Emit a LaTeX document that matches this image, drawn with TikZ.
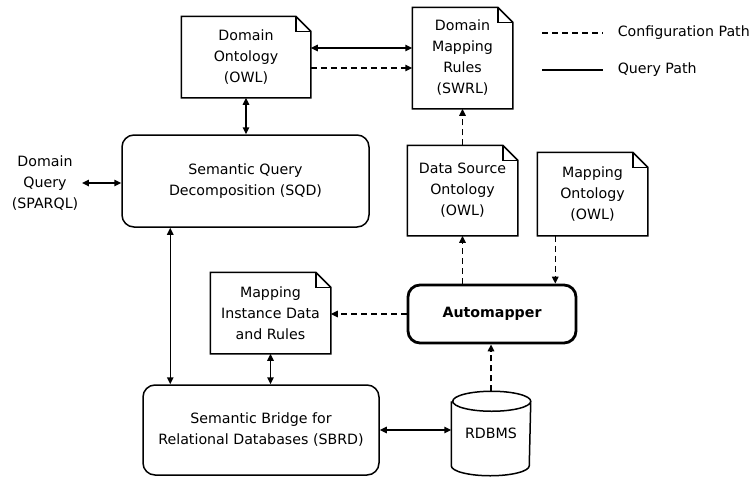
\documentclass[tikz,border=0pt]{standalone}
\usepackage{fontspec}
\setmainfont{DejaVu Sans}
\usetikzlibrary{arrows.meta}
\tikzset{
  base/.style={font=\fontsize{14.2}{21}\selectfont, align=center, inner sep=0pt, line width=1.5pt},
  rbox/.style={base, draw, rounded corners=12pt},
  cfg/.style={line width=1.5pt, dash pattern=on 6pt off 4pt},
  qry/.style={line width=1.5pt},
  tip/.style={-{Triangle[length=7pt,width=6.5pt]}},
  tips/.style={{Triangle[length=7pt,width=6.5pt]}-{Triangle[length=7pt,width=6.5pt]}},
}
\begin{document}
\begin{tikzpicture}[x=1pt,y=-1pt]
\useasboundingbox (0,0) rectangle (752,477);
% documents
\node[base, minimum width=128pt, minimum height=80pt] (do) at (246,57) {Domain\\Ontology\\(OWL)};
\node[base, minimum width=99pt, minimum height=100pt] (dmr) at (462.5,58) {Domain\\Mapping\\Rules\\(SWRL)};
\node[base, minimum width=109pt, minimum height=89pt] (dso) at (462.5,190.5) {Data Source\\Ontology\\(OWL)};
\node[base, minimum width=109pt, minimum height=82pt] (mo) at (592.5,194) {Mapping\\Ontology\\(OWL)};
\node[base, minimum width=119pt, minimum height=80pt] (mi) at (270.5,313) {Mapping\\Instance Data\\and Rules};
\foreach \n in {do,dmr,dso,mo,mi}{
  \draw[line width=1.5pt, line join=miter]
    (\n.south west) -- (\n.north west) -- ([xshift=-15pt]\n.north east)
    -- ([yshift=-15pt]\n.north east) -- (\n.south east) -- cycle;
  \draw[line width=1.5pt, line join=miter]
    ([xshift=-15pt]\n.north east) -- ([xshift=-15pt,yshift=-15pt]\n.north east)
    -- ([yshift=-15pt]\n.north east);
}
% process boxes
\node[rbox, minimum width=247pt, minimum height=92pt] (sqd) at (245.5,181) {Semantic Query\\Decomposition (SQD)};
\node[rbox, minimum width=236pt, minimum height=90pt] (sbrd) at (261,430) {Semantic Bridge for\\Relational Databases (SBRD)};
\node[rbox, line width=2.8pt, minimum width=168pt, minimum height=58pt, font=\fontsize{14.2}{21}\selectfont\bfseries] (auto) at (492,314) {Automapper};
\node[base] (dq) at (45,183) {Domain\\Query\\(SPARQL)};
% cylinder
\node[base, minimum width=78pt, minimum height=83pt] (rdb) at (491,433.5) {\raisebox{-6pt}{RDBMS}};
\draw[line width=1.5pt]
  ([yshift=-10pt]rdb.north west) -- ([yshift=10pt]rdb.south west)
  arc[start angle=180,end angle=360,x radius=39pt,y radius=10pt]
  -- ([yshift=-10pt]rdb.north east)
  arc[start angle=0,end angle=360,x radius=39pt,y radius=10pt];
% connectors
\draw[qry,tips] ([yshift=9pt]do.east) -- ([yshift=9pt]do.east -| dmr.west);
\draw[cfg,tip] ([yshift=-11pt]do.east) -- ([yshift=-11pt]do.east -| dmr.west);
\draw[qry,tips] (do.south) -- (do.south |- sqd.north);
\draw[qry,tips] ([xshift=3pt]dq.east) -- (sqd.west |- dq.east);
\draw[qry,tips] ([xshift=49pt]sqd.south west) -- ([xshift=49pt]sqd.south west |- sbrd.north);
\draw[qry,tips] (mi.south) -- (mi.south |- sbrd.north);
\draw[qry,tips] (sbrd.east) -- (rdb.west |- sbrd.east);
\draw[cfg,tip] (dso.north) -- (dmr.south);
\draw[cfg,tip] (dso.south |- auto.north) -- (dso.south);
\draw[cfg,tip] ([xshift=18pt]mo.south west) -- ([xshift=18pt]mo.south west |- auto.north);
\draw[cfg,tip] (auto.west) -- (mi.east |- auto.west);
\draw[cfg,tip] (rdb.north) -- (rdb.north |- auto.south);
% legend
\coordinate (l1a) at (542,33); \coordinate (l1b) at (603,33);
\coordinate (l2a) at (542,70); \coordinate (l2b) at (603,70);
\draw[cfg] (l1a) -- (l1b);
\draw[qry] (l2a) -- (l2b);
\node[base, anchor=west] (lt1) at (617,33) {Configuration Path};
\node[base, anchor=west] (lt2) at (617,70) {Query Path};
\end{tikzpicture}
\end{document}
